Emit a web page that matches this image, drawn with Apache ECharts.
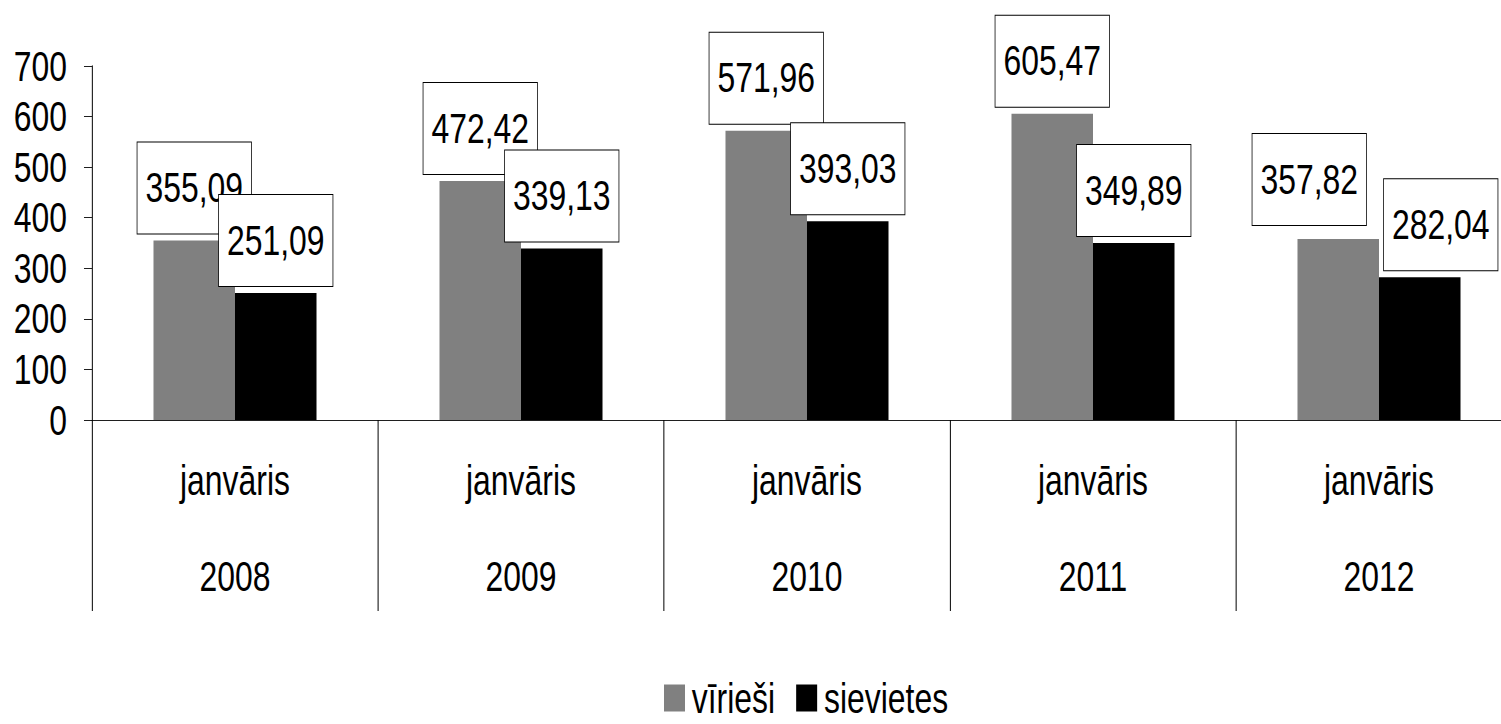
<!DOCTYPE html>
<html>
<head>
<meta charset="utf-8">
<script src="https://cdn.jsdelivr.net/npm/echarts@6/dist/echarts.min.js"></script>
<style>
html,body{margin:0;padding:0;background:#fff;overflow:hidden;width:1501px;height:724px;}
#wrap{width:1501px;height:724px;overflow:hidden;position:relative;}
/* the original chart is drawn in a horizontally condensed style */
#chart{position:absolute;left:0;top:0;height:724px;transform-origin:0 0;}
</style>
</head>
<body>
<div id="wrap"><div id="chart"></div></div>
<script>
var categories = ['janvāris\n\n2008', 'janvāris\n\n2009', 'janvāris\n\n2010', 'janvāris\n\n2011', 'janvāris\n\n2012'];
var seriesNames = ['vīrieši', 'sievietes'];
var virieti = [355.09, 472.42, 571.96, 605.47, 357.82];
var sievietes = [251.09, 339.13, 393.03, 349.89, 282.04];
var yTicks = [0, 100, 200, 300, 400, 500, 600, 700];

var SX = 0.76; // horizontal condensing factor
var W = 1501, H = 724;
var el = document.getElementById('chart');
el.style.width = (W / SX) + 'px';
el.style.transform = 'scaleX(' + SX + ')';
function px(v) { return v / SX; } // convert target horizontal px to pre-scale px

var FONT = '"Liberation Sans", Arial, sans-serif';
var chart = echarts.init(el, null, {renderer: 'svg'});

function fmt(v) { return v.toFixed(2).replace('.', ','); }

var labelBase = {
  show: true,
  position: 'top',
  distance: 7,
  fontFamily: FONT,
  fontSize: 42,
  lineHeight: 44,
  color: '#000',
  backgroundColor: '#fff',
  borderColor: '#000',
  borderWidth: 1,
  padding: [23, px(8), 24, px(8)],
  formatter: function (p) { return fmt(p.value); }
};

// manual label nudges for the last category (as placed in the original)
var lastOffsets = [[px(-29), -7], [px(21), 0]];

function buildData(arr, sIdx) {
  return arr.map(function (v, i) {
    if (i === arr.length - 1) {
      return {value: v, label: {offset: lastOffsets[sIdx]}};
    }
    return v;
  });
}

var option = {
  animation: false,
  backgroundColor: '#fff',
  grid: {left: px(92), top: 66, width: px(1430), bottom: 304, containLabel: false, outerBoundsMode: 'none'},
  legend: {
    left: px(664),
    top: 677,
    padding: 0,
    itemWidth: px(21),
    itemHeight: 27,
    itemGap: px(21),
    icon: 'rect',
    textStyle: {fontFamily: FONT, fontSize: 42, lineHeight: 40, color: '#000', padding: [0, 0, 0, px(3)]},
    data: seriesNames
  },
  xAxis: {
    type: 'category',
    data: categories,
    axisLine: {show: true, lineStyle: {color: '#000', width: 1}},
    axisTick: {show: true, length: 191, alignWithLabel: false, lineStyle: {color: '#000', width: px(1)}},
    axisLabel: {
      interval: 0,
      margin: 36,
      fontFamily: FONT,
      fontSize: 42,
      lineHeight: 48,
      color: '#000'
    },
    splitLine: {show: false}
  },
  yAxis: {
    type: 'value',
    min: yTicks[0],
    max: yTicks[yTicks.length - 1],
    interval: 100,
    axisLine: {show: true, lineStyle: {color: '#000', width: px(1)}},
    axisTick: {show: true, length: px(8), lineStyle: {color: '#000', width: 1}},
    axisLabel: {margin: px(25), fontFamily: FONT, fontSize: 42, color: '#000'},
    splitLine: {show: false}
  },
  series: [
    {
      name: seriesNames[0],
      type: 'bar',
      data: buildData(virieti, 0),
      barGap: '0%',
      barCategoryGap: '43%',
      itemStyle: {color: '#808080'},
      label: labelBase
    },
    {
      name: seriesNames[1],
      type: 'bar',
      data: buildData(sievietes, 1),
      barGap: '0%',
      barCategoryGap: '43%',
      itemStyle: {color: '#000000'},
      label: labelBase
    }
  ]
};
chart.setOption(option);
</script>
</body>
</html>
